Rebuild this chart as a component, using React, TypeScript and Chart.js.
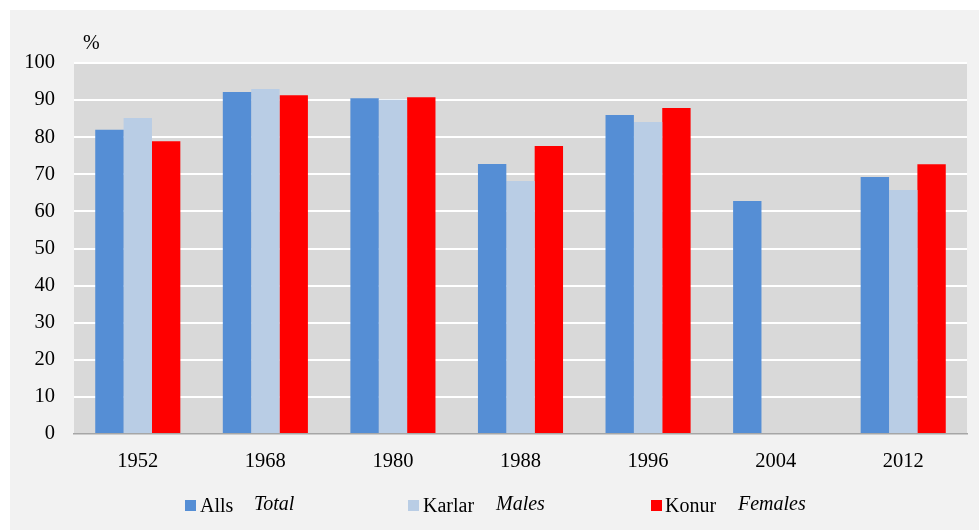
import React, { useEffect, useRef } from "react";
import { Chart, registerables } from "chart.js";
Chart.register(...registerables);

const years = ["1952", "1968", "1980", "1988", "1996", "2004", "2012"];
const totalValues = [82.0, 92.2, 90.5, 72.8, 86.0, 62.8, 69.3];
const malesValues = [85.2, 93.0, 90.1, 68.2, 84.1, null, 65.8];
const femalesValues = [78.9, 91.3, 90.8, 77.6, 87.9, null, 72.7];
const seriesLabels = ["Alls", "Karlar", "Konur"];
const seriesEnglish = ["Total", "Males", "Females"];
const seriesColors = ["#558ed5", "#b9cde5", "#ff0000"];
const yMin = 0;
const yMax = 100;
const yStep = 10;
const unitLabel = "%";

const FONT = "'Liberation Serif', 'Times New Roman', serif";

const plotBg = {
  id: "plotBg",
  beforeDraw(chart: any) {
    const { ctx, chartArea } = chart;
    if (!chartArea) return;
    ctx.save();
    ctx.fillStyle = "#d9d9d9";
    ctx.fillRect(chartArea.left, chartArea.top, chartArea.right - chartArea.left, chartArea.bottom - chartArea.top);
    ctx.restore();
  },
};

export default function App() {
  const ref = useRef<HTMLCanvasElement | null>(null);

  useEffect(() => {
    if (!ref.current) return;
    const chart = new Chart(ref.current, {
      type: "bar",
      data: {
        labels: years,
        datasets: [
          { label: seriesLabels[0], data: totalValues, backgroundColor: seriesColors[0] },
          { label: seriesLabels[1], data: malesValues as any, backgroundColor: seriesColors[1] },
          { label: seriesLabels[2], data: femalesValues as any, backgroundColor: seriesColors[2] },
        ],
      },
      options: {
        animation: false,
        responsive: false,
        devicePixelRatio: 1,
        layout: { padding: { top: 53, right: 12, left: 0, bottom: 0 } },
        datasets: { bar: { categoryPercentage: 0.667, barPercentage: 1.0 } },
        plugins: { legend: { display: false }, tooltip: { enabled: false } },
        scales: {
          x: {
            grid: { display: false, drawTicks: false },
            border: { display: true, color: "#a6a6a6", width: 1.5 },
            ticks: { font: { family: FONT, size: 20.5 }, color: "#000", padding: 15 },
            afterFit: (s: any) => { s.height = 96; },
          },
          y: {
            min: yMin,
            max: yMax,
            grid: {
              drawTicks: false,
              color: (c: any) => (c.tick && c.tick.value === 0 ? "rgba(0,0,0,0)" : "#ffffff"),
              lineWidth: 2,
            },
            border: { display: false },
            ticks: { stepSize: yStep, font: { family: FONT, size: 20.5 }, color: "#000", padding: 19 },
            afterFit: (s: any) => { s.width = 64; },
          },
        },
      },
      plugins: [plotBg],
    });
    return () => chart.destroy();
  }, []);

  const legendX = [185, 408, 651];
  const textX = [200, 423, 665];
  const engX = [254, 496, 738];

  return (
    <div style={{ position: "fixed", left: 0, top: 0, width: 979, height: 530, background: "#fff", overflow: "hidden", fontFamily: FONT }}>
      <div style={{ position: "absolute", left: 10, top: 10, width: 969, height: 520, background: "#f2f2f2" }}>
        <canvas ref={ref} width={969} height={520} style={{ display: "block" }} />
      </div>
      <div style={{ position: "absolute", left: 83, top: 30, fontSize: 20, lineHeight: "24px", color: "#000" }}>{unitLabel}</div>
      {seriesLabels.map((l, i) => (
        <React.Fragment key={l}>
          <div style={{ position: "absolute", left: legendX[i], top: 500, width: 11, height: 11, background: seriesColors[i] }} />
          <div style={{ position: "absolute", left: textX[i], top: 493, fontSize: 20, lineHeight: "24px", color: "#000", whiteSpace: "nowrap" }}>{l}</div>
          <div style={{ position: "absolute", left: engX[i], top: 491, fontSize: 20, lineHeight: "24px", fontStyle: "italic", color: "#000", whiteSpace: "nowrap" }}>{seriesEnglish[i]}</div>
        </React.Fragment>
      ))}
    </div>
  );
}
